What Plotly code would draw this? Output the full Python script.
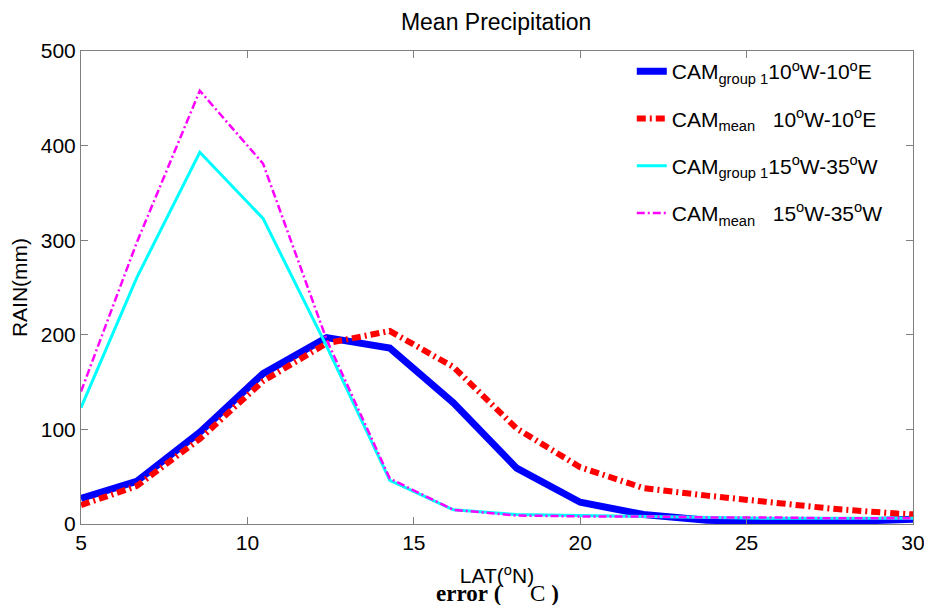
import plotly.graph_objects as go

lat = [5.0, 6.67, 8.57, 10.47, 12.38, 14.28, 16.19, 18.09, 20.0, 21.9, 23.81, 25.71, 27.61, 29.52, 31.42]
group1_east = [27, 45, 97, 159, 197, 186, 128, 59, 23, 10, 4, 2, 2, 5, 7]
mean_east = [20, 40, 90, 151, 191, 204, 166, 101, 60, 38, 30, 23, 16, 11, 8]
group1_west = [123, 260, 393, 323, 188, 46, 15, 10, 9, 8, 7, 6, 6, 6, 6]
mean_west = [140, 297, 458, 381, 195, 48, 15, 9, 8, 8, 7, 7, 6, 6, 6]

names = [
    "CAM<sub>group 1</sub>10<sup>o</sup>W-10<sup>o</sup>E",
    "CAM<sub>mean</sub>\u00a0\u00a0\u00a010<sup>o</sup>W-10<sup>o</sup>E",
    "CAM<sub>group 1</sub>15<sup>o</sup>W-35<sup>o</sup>W",
    "CAM<sub>mean</sub>\u00a0\u00a0\u00a015<sup>o</sup>W-35<sup>o</sup>W",
]

FONT = "Liberation Sans, Arial, sans-serif"

fig = go.Figure()
fig.add_trace(go.Scatter(x=lat, y=group1_east, mode="lines", name=names[0], legendgroup="a",
                         line=dict(color="#0000FF", width=7)))
fig.add_trace(go.Scatter(x=lat, y=mean_east, mode="lines", name=names[1], legendgroup="b",
                         line=dict(color="#FF0000", width=6, dash="9px,4px,2px,4px")))
fig.add_trace(go.Scatter(x=lat, y=group1_west, mode="lines", name=names[2], legendgroup="c",
                         line=dict(color="#00FFFF", width=3)))
fig.add_trace(go.Scatter(x=lat, y=mean_west, mode="lines", name=names[3], legendgroup="d",
                         line=dict(color="#FF00FF", width=2.5, dash="8px,3px,2px,3px")))

axis_common = dict(
    showgrid=False, zeroline=False, showline=True, linecolor="#808080", linewidth=1,
    mirror="ticks", ticks="inside", ticklen=7, tickcolor="#808080", automargin=False,
    tickfont=dict(family=FONT, size=21, color="black"),
)

# the page body has an 8px margin, so the figure is sized/placed to compensate
fig.update_layout(
    width=924, height=597,
    margin=dict(l=73, r=19, t=43, b=81),
    paper_bgcolor="white", plot_bgcolor="white",
    title=dict(text="Mean Precipitation", xref="paper", x=0.499, xanchor="center",
               y=0.976, yanchor="middle",
               font=dict(family=FONT, size=23, color="black")),
    xaxis=dict(range=[5, 30], tickvals=[5, 10, 15, 20, 25, 30],
               title=dict(text="LAT(<sup>o</sup>N)", standoff=15,
                          font=dict(family=FONT, size=21, color="black")),
               **axis_common),
    yaxis=dict(range=[0, 500], tickvals=[0, 100, 200, 300, 400, 500],
               title=dict(text="RAIN(mm)", standoff=10,
                          font=dict(family=FONT, size=21, color="black")),
               **axis_common),
    showlegend=True,
    legend=dict(x=0.662, y=1.0, xanchor="left", yanchor="top",
                bgcolor="rgba(255,255,255,0)", borderwidth=0, itemwidth=30,
                font=dict(family=FONT, size=21, color="black"),
                tracegroupgap=17),
)

fig.add_annotation(text="<b>error\u00a0(</b>\u00a0\u00a0\u00a0\u00a0\u00a0C\u00a0<b>)</b>",
                   xref="paper", yref="paper",
                   x=0.5, y=-0.146, xanchor="center", yanchor="middle", showarrow=False,
                   font=dict(family="Liberation Serif, Times New Roman, serif", size=23, color="black"))

fig.write_html("out.html")
